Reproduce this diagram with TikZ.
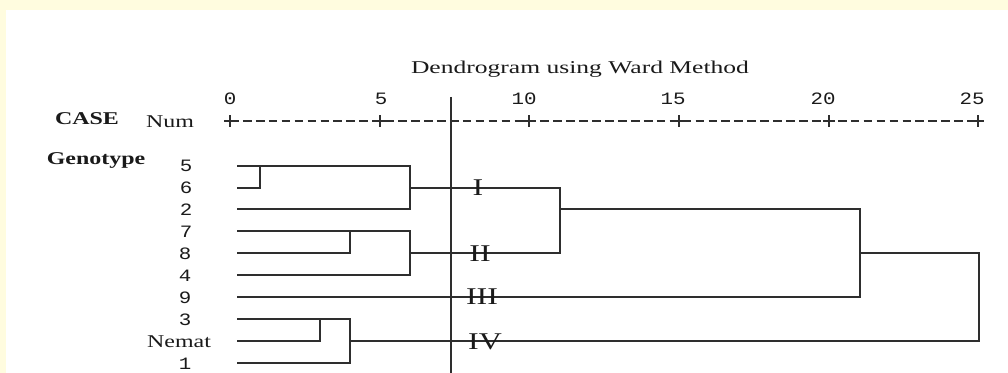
\documentclass[tikz,border=0pt]{standalone}
\usepackage{fontspec}
\setmainfont{Liberation Serif}
\newfontfamily\serifw[FakeStretch=1.33]{Liberation Serif}
\newfontfamily\titlew[FakeStretch=1.42]{Liberation Serif}
\newfontfamily\monow[FakeStretch=1.2]{Liberation Mono}
\definecolor{bgyellow}{HTML}{FFFCDF}
\definecolor{ink}{HTML}{2E2E2E}
\definecolor{txt}{HTML}{1A1A1A}
\tikzset{
  tree/.style={draw=ink, line width=1.5pt, line cap=rect},
  cutline/.style={draw=ink, line width=1.7pt},
  axisdash/.style={draw=ink, line width=1.2pt, dash pattern=on 6.5pt off 3.2pt},
  plusmark/.style={draw=ink, line width=1.2pt},
  leaflab/.style={inner sep=0pt, text=txt, font=\monow\fontsize{13}{14}\selectfont},
  seriflab/.style={inner sep=0pt, text=txt, font=\serifw\fontsize{13.5}{15}\selectfont},
  boldlab/.style={inner sep=0pt, text=txt, font=\serifw\bfseries\fontsize{13.5}{15}\selectfont},
  romanlab/.style={inner sep=0pt, text=txt, font=\serifw\fontsize{18}{19}\selectfont, anchor=base},
  ticklab/.style={inner sep=0pt, text=txt, font=\monow\fontsize{13}{14}\selectfont, anchor=base}
}
\begin{document}
\begin{tikzpicture}[x=0.75pt,y=-0.75pt]
\useasboundingbox (0,0) rectangle (1008,373);
\fill[bgyellow] (0,0) rectangle (1008,373);
\fill[white] (6,10) rectangle (1008,373);

% title and headings
\node[anchor=base, inner sep=0pt, text=txt, font=\titlew\fontsize{13.5}{15}\selectfont] (title) at (580,74) {Dendrogram using Ward Method};
\node[boldlab, anchor=base] (case) at (87,125) {CASE};
\node[seriflab, anchor=base] (num) at (170,127.5) {Num};
\node[boldlab, anchor=base] (geno) at (96,165) {Genotype};

% axis
\coordinate (a0) at (230,121);
\coordinate (a5) at (380,121);
\coordinate (a10) at (529,121);
\coordinate (a15) at (679,121);
\coordinate (a20) at (829,121);
\coordinate (a25) at (978,121);
\draw[axisdash] (a0) -- (a25);
\foreach \p in {a0,a5,a10,a15,a20,a25}{
  \draw[plusmark] ([xshift=-4.5pt]\p) -- ([xshift=4.5pt]\p);
  \draw[plusmark] ([yshift=-4.5pt]\p) -- ([yshift=4.5pt]\p);
}
\node[ticklab] (t0) at (230,105) {0};
\node[ticklab] (t5) at (381,105) {5};
\node[ticklab] (t10) at (524,105) {10};
\node[ticklab] (t15) at (673,105) {15};
\node[ticklab] (t20) at (823,105) {20};
\node[ticklab] (t25) at (972,105) {25};

% leaf labels
\node[leaflab] (l5) at (186,166) {5};
\node[leaflab] (l6) at (186,187.7) {6};
\node[leaflab] (l2) at (186,209.3) {2};
\node[leaflab] (l7) at (186,231.3) {7};
\node[leaflab] (l8) at (185,253.3) {8};
\node[leaflab] (l4) at (185,275.3) {4};
\node[leaflab] (l9) at (185,297.3) {9};
\node[leaflab] (l3) at (185,319.3) {3};
\node[seriflab] (lN) at (179,341.3) {Nemat};
\node[leaflab] (l1) at (185,363.3) {1};

% leaf start points
\coordinate (s5) at (238,166);
\coordinate (s6) at (238,187.7);
\coordinate (s2) at (238,209.3);
\coordinate (s7) at (238,231.3);
\coordinate (s8) at (238,253.3);
\coordinate (s4) at (238,275.3);
\coordinate (s9) at (238,297.3);
\coordinate (s3) at (238,319.3);
\coordinate (sN) at (238,341.3);
\coordinate (s1) at (238,363.3);

% merge points
\coordinate (m56a) at (259.5,166);
\coordinate (m56b) at (259.5,187.7);
\coordinate (mIa) at (409.5,166);
\coordinate (mIc) at (409.5,187.7);
\coordinate (mIb) at (409.5,209.3);
\coordinate (m78a) at (349.5,231.3);
\coordinate (m78b) at (349.5,253.3);
\coordinate (mIIa) at (409.5,231.3);
\coordinate (mIIc) at (409.5,253.3);
\coordinate (mIIb) at (409.5,275.3);
\coordinate (m3Na) at (319.5,319.3);
\coordinate (m3Nb) at (319.5,341.3);
\coordinate (mIVa) at (349.5,319.3);
\coordinate (mIVc) at (349.5,341.3);
\coordinate (mIVb) at (349.5,363.3);
\coordinate (mA) at (560,187.7);
\coordinate (mAc) at (560,209.3);
\coordinate (mAb) at (560,253.3);
\coordinate (mB) at (860,209.3);
\coordinate (mBc) at (860,253.3);
\coordinate (mBb) at (860,297.3);
\coordinate (mC) at (979,253.3);
\coordinate (mCb) at (979,341.3);

% cluster I
\draw[tree] (s5) -- (mIa);
\draw[tree] (s6) -- (m56b);
\draw[tree] (m56a) -- (m56b);
\draw[tree] (mIa) -- (mIb);
\draw[tree] (s2) -- (mIb);
\draw[tree] (mIc) -- (mA);
% cluster II
\draw[tree] (s7) -- (mIIa);
\draw[tree] (s8) -- (m78b);
\draw[tree] (m78a) -- (m78b);
\draw[tree] (mIIa) -- (mIIb);
\draw[tree] (s4) -- (mIIb);
\draw[tree] (mIIc) -- (mAb);
% I + II
\draw[tree] (mA) -- (mAb);
\draw[tree] (mAc) -- (mB);
% III
\draw[tree] (s9) -- (mBb);
\draw[tree] (mB) -- (mBb);
\draw[tree] (mBc) -- (mC);
% cluster IV
\draw[tree] (s3) -- (mIVa);
\draw[tree] (sN) -- (m3Nb);
\draw[tree] (m3Na) -- (m3Nb);
\draw[tree] (mIVa) -- (mIVb);
\draw[tree] (s1) -- (mIVb);
\draw[tree] (mIVc) -- (mCb);
\draw[tree] (mC) -- (mCb);

% cut line
\coordinate (cutT) at (451,97);
\coordinate (cutB) at (451,373);
\draw[cutline] (cutT) -- (cutB);

% roman numerals
\node[romanlab] (rI) at (478,196) {I};
\node[romanlab] (rII) at (480,262) {II};
\node[romanlab] (rIII) at (482,305) {III};
\node[romanlab] (rIV) at (485,350) {IV};
\end{tikzpicture}
\end{document}
